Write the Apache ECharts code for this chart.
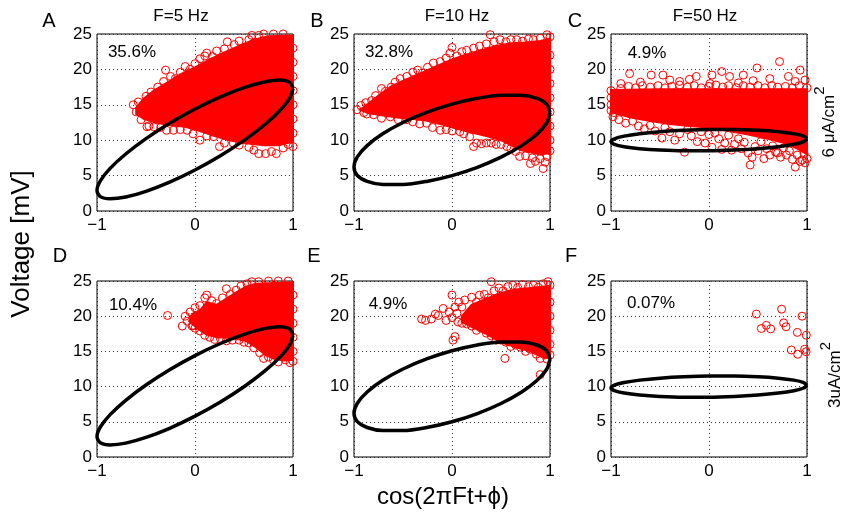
<!DOCTYPE html>
<html><head><meta charset="utf-8">
<script src="https://cdn.jsdelivr.net/npm/echarts@6/dist/echarts.min.js"></script>
<style>html,body{margin:0;padding:0;background:#fff}#c{width:841px;height:512px}</style>
</head><body><div id="c"></div><script>
const FONT = 'Liberation Sans, Arial, sans-serif';
const panelLetters = ['A','B','C','D','E','F'];
const columnTitles = ['F=5 Hz','F=10 Hz','F=50 Hz'];
const percents = ['35.6%','32.8%','4.9%','10.4%','4.9%','0.07%'];
const rowLabels = [['6 μA/cm','2'],['3uA/cm','2']];
const xTickValues = [-1,0,1];
const xTickLabels = ['−1','0','1'];
const yTickValues = [0,5,10,15,20,25];
const yTickLabels = ['0','5','10','15','20','25'];

// limit-cycle ellipses
const ellipse5Hz = [[1,17.3],[0.966,18.17],[0.866,18.49],[0.707,18.23],[0.5,17.42],[0.259,16.12],[0,14.4],[-0.259,12.39],[-0.5,10.22],[-0.707,8.05],[-0.866,6.02],[-0.966,4.26],[-1,2.9],[-0.966,2.03],[-0.866,1.72],[-0.707,1.97],[-0.5,2.78],[-0.259,4.08],[0,5.8],[0.259,7.81],[0.5,9.98],[0.707,12.15],[0.866,14.19],[0.966,15.94],[1,17.3]];
const ellipse10Hz = [[1,13.9],[0.966,15.08],[0.866,15.91],[0.707,16.34],[0.5,16.35],[0.259,15.92],[0,15.1],[-0.259,13.93],[-0.5,12.5],[-0.707,10.9],[-0.866,9.24],[-0.966,7.64],[-1,6.2],[-0.966,5.02],[-0.866,4.19],[-0.707,3.76],[-0.5,3.75],[-0.259,4.18],[0,5.0],[0.259,6.17],[0.5,7.6],[0.707,9.2],[0.866,10.86],[0.966,12.46],[1,13.9]];
const ellipse50Hz = [[1,10.2],[0.966,10.58],[0.866,10.92],[0.707,11.2],[0.5,11.4],[0.259,11.5],[0,11.5],[-0.259,11.4],[-0.5,11.2],[-0.707,10.92],[-0.866,10.58],[-0.966,10.2],[-1,9.8],[-0.966,9.42],[-0.866,9.08],[-0.707,8.8],[-0.5,8.6],[-0.259,8.5],[0,8.5],[0.259,8.6],[0.5,8.8],[0.707,9.08],[0.866,9.42],[0.966,9.8],[1,10.2]];

// dense (solid) parts of the spike clouds
const coreA = [[-0.6,14.6],[-0.52,15.9],[-0.42,17.0],[-0.3,18.0],[-0.15,19.3],[0.0,20.3],[0.15,21.4],[0.3,22.4],[0.45,23.3],[0.6,24.2],[0.75,24.7],[1.0,24.8],[1.0,9.8],[0.85,9.3],[0.7,9.3],[0.5,9.6],[0.35,10.0],[0.2,10.6],[0.05,11.3],[-0.1,11.9],[-0.25,12.1],[-0.4,12.5],[-0.52,13.0],[-0.6,13.7]];
const coreB = [[-0.94,14.3],[-0.85,15.2],[-0.75,16.3],[-0.62,17.6],[-0.48,18.5],[-0.33,19.4],[-0.18,20.3],[0.0,21.4],[0.15,22.1],[0.3,22.7],[0.45,23.3],[0.6,23.7],[0.75,23.8],[0.9,24.0],[1.0,24.3],[1.0,8.2],[0.9,8.0],[0.8,8.3],[0.7,8.6],[0.6,9.3],[0.5,10.0],[0.35,10.6],[0.2,11.1],[0.05,11.6],[-0.1,12.2],[-0.3,12.9],[-0.5,13.1],[-0.7,13.5],[-0.85,13.8]];
const coreC = [[-1,17.1],[-0.5,17.2],[0,17.2],[0.5,17.2],[1,17.2],[1,8.0],[0.9,8.8],[0.8,9.5],[0.6,10.2],[0.4,10.8],[0.2,11.3],[0,11.8],[-0.2,12.0],[-0.4,12.3],[-0.6,12.7],[-0.8,13.2],[-1,14.0]];
const coreD = [[-0.06,19.3],[-0.03,20.3],[0.05,20.8],[0.12,22.0],[0.22,21.6],[0.32,22.5],[0.42,23.4],[0.52,24.2],[0.62,24.6],[1,24.8],[1,13.8],[0.9,13.7],[0.8,14.0],[0.72,14.5],[0.62,15.6],[0.52,16.5],[0.38,16.9],[0.22,17.0],[0.12,17.4],[0.03,18.2]];
const coreE = [[0.1,20.0],[0.2,21.6],[0.35,22.5],[0.5,23.3],[0.65,23.8],[0.8,24.0],[1,24.3],[1,14.0],[0.9,14.3],[0.8,15.0],[0.65,15.6],[0.5,16.3],[0.35,17.5],[0.2,18.5],[0.1,19.2]];
const coreF = [];

// individual spikes visible at the cloud edges
const edgeA = [[-0.63,15.0],[-0.6,14.0],[-0.58,15.4],[-0.55,12.9],[-0.5,16.2],[-0.47,12.0],[-0.45,16.8],[-0.42,15.9],[-0.38,17.5],[-0.3,19.9],[-0.32,18.3],[-0.25,19.0],[-0.2,18.7],[-0.15,19.6],[-0.1,20.4],[-0.05,20.0],[0.0,20.8],[0.05,21.5],[0.1,21.9],[0.12,22.3],[0.18,21.8],[0.22,22.6],[0.3,22.9],[0.33,23.9],[0.4,23.5],[0.45,24.0],[0.55,24.2],[0.58,24.8],[0.65,24.8],[0.7,25],[0.8,25],[0.9,25],[1,25.1],[1,23],[1,21],[1,19],[1,17],[1,15],[1,13],[1,11],[1,9.1],[0.95,9.4],[0.9,8.9],[0.83,8.1],[0.78,8.4],[0.72,8.1],[0.65,8.1],[0.6,8.6],[0.55,9.0],[0.45,9.3],[0.39,9.6],[0.3,9.6],[0.25,9.1],[0.19,10.5],[0.12,10.6],[0.05,10.0],[-0.02,10.9],[-0.08,11.4],[-0.15,11.5],[-0.22,11.4],[-0.29,11.4],[-0.35,11.8],[-0.42,11.9],[-0.49,11.9]];
const edgeB = [[-0.97,14.3],[-0.93,14.9],[-0.9,13.9],[-0.88,15.3],[-0.82,15.6],[-0.78,16.3],[-0.72,17.3],[-0.68,16.9],[-0.62,17.5],[-0.58,18.2],[-0.53,18.7],[-0.46,19.0],[-0.4,19.6],[-0.35,19.9],[-0.3,19.5],[-0.25,20.3],[-0.19,20.9],[-0.12,21.1],[-0.06,21.6],[-0.02,22.3],[0.0,23.1],[0.05,21.9],[0.1,22.5],[0.15,22.7],[0.22,23.0],[0.28,23.3],[0.35,23.6],[0.39,24.9],[0.43,23.9],[0.49,24.2],[0.55,23.9],[0.6,24.2],[0.66,24.2],[0.72,24.0],[0.78,24.3],[0.83,24.2],[0.9,24.4],[0.97,24.9],[1.0,24.6],[1,22],[1,20],[1,18],[1,16],[1,14],[1,12],[1,10],[1,8.5],[0.97,7.7],[0.95,6.9],[0.93,6.0],[0.9,7.4],[0.85,7.0],[0.8,6.7],[0.82,7.5],[0.75,7.8],[0.69,7.7],[0.65,8.4],[0.6,8.8],[0.56,9.1],[0.5,9.4],[0.45,9.4],[0.4,9.6],[0.35,9.6],[0.3,9.5],[0.25,9.6],[0.22,9.1],[0.18,10.5],[0.12,10.9],[0.08,11.2],[0.0,11.3],[-0.06,11.5],[-0.12,11.4],[-0.2,11.8],[-0.26,12.4],[-0.33,12.3],[-0.4,12.6],[-0.46,12.9],[-0.55,12.9],[-0.63,13.3],[-0.72,13.1],[-0.8,13.6],[-0.87,13.7]];
const edgeC = [[-1,17.0],[-0.95,16.6],[-0.9,17.3],[-0.82,17.6],[-0.75,17.4],[-0.68,17.7],[-0.6,17.5],[-0.52,17.7],[-0.45,17.4],[-0.38,17.6],[-0.3,17.8],[-0.22,17.5],[-0.15,17.7],[-0.08,17.4],[0.0,17.6],[0.07,17.8],[0.14,17.5],[0.2,17.7],[0.28,17.4],[0.35,17.7],[0.42,17.5],[0.5,17.7],[0.57,17.4],[0.64,17.7],[0.7,17.5],[0.78,17.6],[0.85,17.4],[0.92,17.7],[1,17.4],[-1,16],[-1,15],[-1,14.2],[-0.97,13.9],
 [-0.81,19.4],[-0.59,19.2],[-0.47,19.2],[-0.4,18.5],[-0.3,18.3],[-0.13,19.0],[0.01,18.0],[0.03,19.2],[0.13,19.7],[0.21,19.0],[0.35,19.2],[0.49,20.2],[0.62,18.7],[0.72,21.1],[0.81,19.0],[0.88,18.3],[0.93,19.9],[-0.7,18.2],[-0.2,18.6],[0.45,18.4],[0.3,18.1],[-0.9,18.0],[0.98,18.5],
 [-0.98,13.3],[-0.92,12.9],[-0.85,12.4],[-0.78,12.7],[-0.72,12.0],[-0.66,11.6],[-0.6,12.1],[-0.55,11.3],[-0.48,10.3],[-0.45,11.8],[-0.4,11.2],[-0.35,10.0],[-0.3,10.9],[-0.25,8.3],[-0.22,11.5],[-0.18,10.6],[-0.12,9.8],[-0.08,11.2],[-0.04,9.6],[0.0,10.8],[0.03,9.0],[0.06,11.0],[0.1,10.2],[0.13,8.7],[0.16,9.6],[0.2,10.7],[0.23,8.6],[0.26,9.4],[0.3,10.2],[0.33,8.8],[0.36,9.7],[0.4,8.2],[0.42,6.5],[0.44,7.6],[0.47,9.1],[0.5,8.5],[0.53,9.8],[0.56,7.4],[0.59,8.8],[0.62,7.9],[0.65,9.2],[0.68,8.3],[0.7,8.2],[0.73,7.6],[0.76,8.9],[0.79,7.9],[0.82,8.5],[0.85,7.3],[0.88,6.2],[0.9,7.9],[0.93,7.0],[0.95,7.2],[0.97,8.1],[1.0,7.4],[0.98,6.8]];
const edgeD = [[-0.28,20.1],[-0.13,18.6],[-0.1,20.0],[-0.08,19.3],[-0.05,20.6],[-0.02,18.7],[0.0,21.2],[0.05,21.5],[0.1,22.6],[0.12,23.0],[0.17,22.2],[0.22,21.8],[0.28,22.6],[0.32,23.9],[0.36,23.1],[0.42,23.7],[0.47,24.3],[0.53,24.6],[0.58,24.9],[0.65,24.9],[0.75,25],[0.85,25],[0.95,25],[1,25.1],[1,23],[1,21],[1,19],[1,17],[1,15],[1,13.6],[0.97,13.4],[0.92,13.8],[0.85,13.5],[0.8,13.8],[0.75,14.2],[0.7,14.0],[0.66,14.8],[0.6,15.5],[0.55,16.2],[0.5,16.3],[0.45,16.6],[0.38,16.6],[0.32,16.5],[0.26,16.8],[0.2,16.7],[0.15,17.0],[0.1,17.3],[0.05,17.9],[0.0,18.3],[-0.03,18.6]];
const edgeE = [[-0.31,19.6],[-0.27,19.4],[-0.21,19.6],[-0.17,20.3],[-0.14,20.1],[-0.09,21.1],[-0.06,19.4],[-0.03,20.6],[0.0,23.0],[0.03,21.3],[0.01,16.6],[0.03,17.1],[0.0,19.8],[0.05,20.4],[0.07,22.0],[0.1,21.3],[0.13,22.3],[0.17,19.3],[0.2,22.7],[0.25,22.0],[0.28,23.0],[0.33,23.1],[0.37,22.6],[0.4,24.9],[0.43,23.6],[0.48,24.0],[0.52,23.6],[0.57,24.2],[0.62,24.4],[0.67,24.1],[0.72,24.5],[0.78,24.2],[0.83,24.4],[0.88,24.1],[0.93,24.6],[0.98,24.9],[1,24.4],[1,22],[1,20],[1,18],[1,16],[1,14.5],[0.97,13.9],[0.95,14.5],[0.9,14.0],[0.9,11.7],[0.86,14.6],[0.8,15.3],[0.75,15.0],[0.7,15.6],[0.65,15.9],[0.6,15.7],[0.54,14.0],[0.55,16.3],[0.5,16.6],[0.45,16.6],[0.4,17.2],[0.35,17.6],[0.3,18.3],[0.25,18.0],[0.2,18.6],[0.15,18.9],[0.1,19.0],[0.06,19.2]];
const edgeF = [[0.483,20.3],[0.741,21.0],[0.949,20.0],[0.534,18.25],[0.585,18.7],[0.629,18.2],[0.762,19.05],[0.786,18.5],[0.901,17.7],[0.993,17.3],[0.84,15.2],[0.905,14.6],[0.976,15.3],[0.99,14.95]];

const cores = [coreA, coreB, coreC, coreD, coreE, coreF];
const edges = [edgeA, edgeB, edgeC, edgeD, edgeE, edgeF];
const ellipses = [ellipse5Hz, ellipse10Hz, ellipse50Hz, ellipse5Hz, ellipse10Hz, ellipse50Hz];

const colLeft = [97, 354, 611];
const rowTop = [34, 281];
const rowH = [177, 176];
const grids = [], xAxes = [], yAxes = [], series = [];
for (let i = 0; i < 6; i++) {
  const c = i % 3, r = Math.floor(i / 3);
  grids.push({left: colLeft[c], top: rowTop[r], width: 196, height: rowH[r], show: true, borderColor: '#000', borderWidth: 1, backgroundColor: 'rgba(0,0,0,0)'});
  xAxes.push({gridIndex: i, type: 'value', min: -1, max: 1, interval: 1,
    axisLine: {show: false}, axisTick: {show: false},
    axisLabel: {fontSize: 17, color: '#000', fontFamily: FONT, margin: 6,
      formatter: v => xTickLabels[xTickValues.indexOf(v)]},
    splitLine: {show: true, lineStyle: {type: [1, 3], color: '#333', width: 1}}});
  yAxes.push({gridIndex: i, type: 'value', min: 0, max: 25, interval: 5,
    axisLine: {show: false}, axisTick: {show: false},
    axisLabel: {fontSize: 17, color: '#000', fontFamily: FONT, margin: 5,
      formatter: v => yTickLabels[yTickValues.indexOf(v)]},
    splitLine: {show: true, lineStyle: {type: [1, 3], color: '#333', width: 1}}});
  const core = cores[i];
  if (core.length) {
    series.push({type: 'custom', xAxisIndex: i, yAxisIndex: i, data: core, z: 1, silent: true,
      renderItem: (params, api) => params.dataIndex === 0 ? {
        type: 'polygon', shape: {points: core.map(p => api.coord(p))},
        style: {fill: '#ff0000', stroke: '#ff0000', lineWidth: 2}} : null});
  }
  series.push({type: 'scatter', xAxisIndex: i, yAxisIndex: i, data: edges[i], z: 2,
    symbol: 'circle', symbolSize: 8, silent: true,
    itemStyle: {color: 'rgba(0,0,0,0)', borderColor: '#ff0000', borderWidth: 1, opacity: 1}});
  series.push({type: 'line', xAxisIndex: i, yAxisIndex: i, data: ellipses[i], z: 3,
    showSymbol: false, smooth: 0.3, silent: true,
    lineStyle: {color: '#000', width: 3.5}});
}

const graphic = [];
const txt = (text, x, y, size, rot) => ({type: 'text', x: x, y: y, rotation: rot || 0, z: 100,
  style: {text: text, fill: '#000', font: size + 'px ' + FONT, textAlign: 'center', textVerticalAlign: 'middle'}});
const supTxt = (parts, x, y, size) => ({type: 'text', x: x, y: y, rotation: Math.PI / 2, z: 100,
  style: {text: '{a|' + parts[0] + '}{s|' + parts[1] + '}', textAlign: 'center', textVerticalAlign: 'middle',
    rich: {a: {fontSize: size, fontFamily: FONT, fill: '#000', color: '#000', lineHeight: 26, verticalAlign: 'bottom'},
           s: {fontSize: size - 2, fontFamily: FONT, fill: '#000', color: '#000', lineHeight: 26, verticalAlign: 'top'}}}});
const letterPos = [[49,21],[317,21],[575,21],[60,256],[314,256],[571,256]];
const pctPos = [[132,52],[389,52],[647,53],[133,305],[388,304],[651,303]];
const titlePos = [[181,16],[457,16],[705,16]];
for (let i = 0; i < 6; i++) {
  graphic.push(txt(panelLetters[i], letterPos[i][0], letterPos[i][1], 20));
  graphic.push(txt(percents[i], pctPos[i][0], pctPos[i][1], 17));
}
for (let c = 0; c < 3; c++) graphic.push(txt(columnTitles[c], titlePos[c][0], titlePos[c][1], 17));
graphic.push(txt('Voltage [mV]', 22, 244, 26, Math.PI / 2));
graphic.push(txt('cos(2πFt+ϕ)', 443, 497, 24));
graphic.push(supTxt(rowLabels[0], 825, 122, 17));
graphic.push(supTxt(rowLabels[1], 831, 375, 17));

const chart = echarts.init(document.getElementById('c'), null, {renderer: 'canvas'});
chart.setOption({animation: false, backgroundColor: '#fff', grid: grids, xAxis: xAxes, yAxis: yAxes, series: series, graphic: graphic});
</script></body></html>
